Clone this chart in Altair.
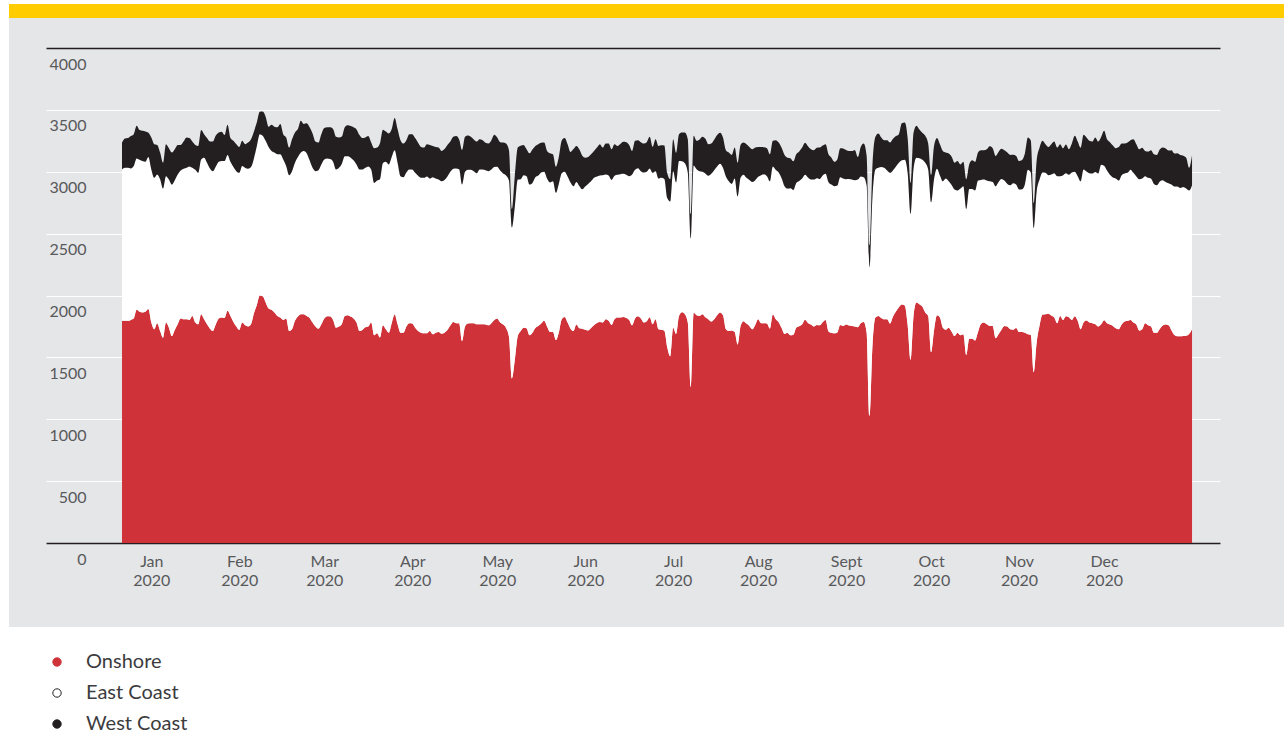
import altair as alt
import pandas as pd

# ---- series (daily, 1 Jan 2020 – 31 Dec 2020) ----
SERIES = ["Onshore", "East Coast", "West Coast"]
FILLS = ["#CF3339", "#FFFFFF", "#231F20"]
OUTLINES = ["#CF3339", "#231F20", "#231F20"]

onshore = [
    1795, 1795, 1795, 1803, 1814, 1884, 1868, 1863, 1868, 1890,
    1781, 1727, 1776, 1713, 1659, 1781, 1740, 1672, 1721, 1767,
    1814, 1808, 1808, 1803, 1835, 1781, 1767, 1849, 1808, 1767,
    1732, 1713, 1767, 1814, 1822, 1819, 1876, 1835, 1786, 1749,
    1721, 1781, 1759, 1749, 1767, 1857, 1923, 1999, 1993, 1944,
    1895, 1884, 1863, 1835, 1822, 1803, 1814, 1713, 1727, 1795,
    1830, 1849, 1849, 1835, 1819, 1781, 1749, 1732, 1767, 1814,
    1833, 1830, 1803, 1740, 1749, 1770, 1835, 1841, 1830, 1814,
    1781, 1713, 1721, 1743, 1749, 1781, 1678, 1694, 1660, 1760,
    1727, 1699, 1776, 1846, 1767, 1699, 1699, 1749, 1776, 1773,
    1740, 1713, 1699, 1694, 1694, 1713, 1686, 1699, 1705, 1691,
    1699, 1721, 1757, 1786, 1776, 1776, 1632, 1749, 1773, 1776,
    1776, 1767, 1767, 1767, 1765, 1759, 1776, 1803, 1814, 1781,
    1765, 1738, 1667, 1330, 1480, 1672, 1713, 1740, 1735, 1678,
    1699, 1738, 1754, 1773, 1795, 1749, 1705, 1705, 1640, 1699,
    1808, 1827, 1781, 1732, 1713, 1765, 1735, 1732, 1724, 1718,
    1738, 1759, 1778, 1786, 1781, 1808, 1795, 1762, 1808, 1822,
    1822, 1827, 1819, 1803, 1759, 1814, 1833, 1814, 1781, 1792,
    1824, 1767, 1808, 1727, 1724, 1716, 1580, 1510, 1740, 1690,
    1835, 1865, 1849, 1781, 1260, 1860, 1841, 1835, 1849, 1824,
    1808, 1789, 1808, 1841, 1863, 1841, 1727, 1713, 1718, 1705,
    1604, 1754, 1792, 1773, 1754, 1727, 1762, 1808, 1776, 1776,
    1773, 1732, 1846, 1808, 1784, 1738, 1691, 1697, 1678, 1683,
    1740, 1751, 1767, 1805, 1778, 1765, 1749, 1762, 1759, 1784,
    1803, 1710, 1699, 1694, 1702, 1762, 1754, 1765, 1757, 1754,
    1749, 1743, 1776, 1786, 1700, 1030, 1600, 1822, 1835, 1819,
    1808, 1808, 1773, 1830, 1871, 1906, 1928, 1920, 1760, 1480,
    1835, 1944, 1930, 1911, 1863, 1835, 1543, 1720, 1841, 1822,
    1740, 1724, 1740, 1708, 1672, 1699, 1678, 1686, 1520, 1650,
    1651, 1637, 1705, 1770, 1781, 1767, 1754, 1754, 1654, 1686,
    1724, 1754, 1749, 1727, 1724, 1738, 1705, 1705, 1700, 1686,
    1681, 1380, 1620, 1757, 1846, 1849, 1852, 1838, 1822, 1776,
    1835, 1803, 1833, 1824, 1803, 1833, 1795, 1727, 1781, 1797,
    1781, 1776, 1767, 1749, 1767, 1800, 1776, 1765, 1754, 1735,
    1727, 1765, 1789, 1795, 1803, 1781, 1765, 1716, 1727, 1776,
    1759, 1749, 1699, 1699, 1730, 1757, 1765, 1759, 1718, 1681,
    1670, 1670, 1672, 1675, 1689, 1727,
]

east_coast = [
    1224, 1237, 1237, 1224, 1232, 1224, 1229, 1224, 1213, 1229,
    1238, 1224, 1202, 1227, 1205, 1183, 1197, 1224, 1211, 1211,
    1196, 1216, 1224, 1240, 1197, 1235, 1224, 1251, 1306, 1306,
    1295, 1292, 1276, 1267, 1265, 1268, 1260, 1246, 1252, 1256,
    1270, 1265, 1273, 1275, 1271, 1251, 1286, 1305, 1298, 1306,
    1306, 1284, 1292, 1306, 1319, 1297, 1232, 1259, 1278, 1278,
    1289, 1306, 1319, 1314, 1273, 1251, 1256, 1281, 1292, 1286,
    1275, 1273, 1278, 1279, 1283, 1295, 1290, 1284, 1284, 1278,
    1278, 1306, 1298, 1289, 1294, 1238, 1232, 1235, 1280, 1310,
    1354, 1360, 1343, 1327, 1306, 1265, 1257, 1245, 1243, 1246,
    1251, 1254, 1252, 1257, 1268, 1232, 1270, 1246, 1232, 1232,
    1235, 1241, 1242, 1238, 1251, 1245, 1264, 1250, 1243, 1240,
    1229, 1221, 1252, 1252, 1248, 1246, 1243, 1235, 1226, 1229,
    1221, 1232, 1262, 1220, 1240, 1265, 1227, 1232, 1229, 1218,
    1211, 1218, 1216, 1221, 1205, 1196, 1208, 1218, 1190, 1203,
    1180, 1173, 1181, 1181, 1170, 1153, 1150, 1126, 1156, 1184,
    1185, 1192, 1184, 1184, 1191, 1170, 1175, 1172, 1159, 1153,
    1158, 1156, 1156, 1161, 1219, 1202, 1196, 1191, 1213, 1208,
    1203, 1224, 1197, 1218, 1227, 1226, 1208, 1250, 1265, 1224,
    1252, 1219, 1219, 1210, 1200, 1190, 1180, 1170, 1151, 1162,
    1159, 1194, 1205, 1202, 1202, 1191, 1235, 1210, 1184, 1240,
    1197, 1197, 1183, 1178, 1180, 1191, 1170, 1151, 1196, 1204,
    1191, 1191, 1197, 1208, 1210, 1210, 1192, 1167, 1189, 1170,
    1170, 1175, 1178, 1170, 1175, 1172, 1188, 1186, 1183, 1186,
    1180, 1205, 1197, 1189, 1186, 1194, 1191, 1175, 1185, 1183,
    1183, 1194, 1186, 1170, 1190, 1198, 1200, 1197, 1197, 1219,
    1224, 1202, 1218, 1183, 1172, 1167, 1164, 1177, 1230, 1180,
    1190, 1170, 1179, 1186, 1210, 1184, 1210, 1220, 1183, 1148,
    1183, 1221, 1183, 1185, 1184, 1149, 1186, 1197, 1180, 1210,
    1210, 1211, 1224, 1164, 1156, 1162, 1169, 1164, 1229, 1232,
    1218, 1175, 1153, 1164, 1183, 1158, 1151, 1153, 1200, 1330,
    1313, 1165, 1220, 1180, 1148, 1142, 1120, 1140, 1166, 1188,
    1129, 1169, 1155, 1151, 1191, 1167, 1169, 1196, 1238, 1205,
    1207, 1210, 1230, 1237, 1290, 1249, 1234, 1210, 1199, 1210,
    1202, 1207, 1197, 1196, 1213, 1210, 1197, 1224, 1218, 1188,
    1192, 1196, 1203, 1192, 1191, 1175, 1153, 1148, 1178, 1199,
    1210, 1199, 1205, 1189, 1159, 1164,
]

west_coast = [
    217, 237, 240, 261, 258, 264, 240, 244, 245, 196,
    258, 272, 239, 215, 209, 259, 253, 259, 250, 239,
    207, 220, 245, 229, 212, 201, 218, 237, 190, 199,
    217, 239, 250, 237, 236, 209, 244, 191, 212, 218,
    210, 204, 191, 212, 225, 218, 190, 180, 195, 195,
    163, 212, 209, 218, 245, 204, 231, 223, 258, 245,
    226, 258, 218, 242, 267, 278, 239, 223, 245, 253,
    251, 256, 264, 263, 245, 220, 234, 250, 255, 267,
    283, 277, 253, 245, 245, 217, 280, 266, 290, 270,
    245, 251, 226, 262, 272, 291, 272, 261, 285, 285,
    281, 267, 250, 244, 261, 272, 253, 256, 258, 245,
    250, 255, 245, 258, 261, 240, 280, 283, 277, 266,
    256, 256, 244, 236, 221, 223, 236, 261, 237, 229,
    250, 258, 245, 150, 250, 258, 270, 245, 218, 253,
    270, 253, 253, 240, 236, 223, 236, 218, 210, 217,
    265, 272, 261, 247, 300, 291, 296, 272, 234, 217,
    218, 217, 233, 253, 223, 250, 258, 248, 256, 234,
    245, 259, 264, 253, 190, 234, 226, 234, 234, 239,
    255, 210, 258, 264, 263, 270, 200, 180, 258, 239,
    217, 234, 250, 272, 200, 240, 229, 256, 282, 280,
    256, 245, 245, 253, 250, 245, 212, 232, 234, 250,
    272, 266, 261, 272, 267, 264, 263, 242, 229, 218,
    226, 218, 207, 239, 242, 245, 253, 250, 242, 231,
    231, 237, 250, 259, 253, 245, 237, 245, 253, 242,
    240, 226, 218, 198, 212, 234, 242, 236, 226, 231,
    242, 182, 239, 272, 240, 180, 260, 263, 278, 239,
    223, 245, 245, 253, 245, 231, 300, 300, 280, 250,
    290, 258, 233, 218, 218, 209, 220, 270, 248, 253,
    245, 210, 224, 229, 217, 239, 195, 198, 240, 200,
    231, 231, 226, 240, 237, 253, 283, 272, 245, 242,
    243, 245, 253, 245, 231, 232, 231, 237, 250, 260,
    258, 200, 250, 258, 256, 232, 229, 245, 256, 231,
    259, 218, 232, 207, 234, 290, 280, 270, 280, 275,
    262, 258, 280, 258, 223, 282, 253, 264, 259, 245,
    270, 256, 242, 245, 239, 272, 261, 242, 248, 204,
    212, 229, 239, 245, 258, 263, 270, 265, 278, 267,
    269, 267, 253, 250, 184, 242,
]

# ---- axis text ----
MONTHS = ["Jan", "Feb", "Mar", "Apr", "May", "Jun",
          "Jul", "Aug", "Sept", "Oct", "Nov", "Dec"]
YEAR_LABEL = "2020"
MONTH_LABEL_DATES = ["2020-01-11", "2020-02-10", "2020-03-10", "2020-04-09",
                     "2020-05-08", "2020-06-07", "2020-07-07", "2020-08-05",
                     "2020-09-04", "2020-10-03", "2020-11-02", "2020-12-01"]
Y_TICKS = [0, 500, 1000, 1500, 2000, 2500, 3000, 3500, 4000]

FONT = "Lato"
PANEL_GREY = "#E5E6E8"
YELLOW = "#FFCC00"
INK = "#231F20"

# ---- long-form table ----
dates = pd.date_range("2020-01-01", "2020-12-31", freq="D").strftime("%Y-%m-%d")
frames = []
for rank, (name, values) in enumerate(zip(SERIES, [onshore, east_coast, west_coast])):
    frames.append(pd.DataFrame({"date": dates, "value": values,
                                "series": name, "rank": rank}))
df = pd.concat(frames, ignore_index=True)


def utc_date(text, hours=0, minutes=0):
    y, m, d = (int(p) for p in text.split("-"))
    return alt.DateTime(year=y, month=m, date=d, hours=hours,
                        minutes=minutes, utc=True)


x_domain = [utc_date("2019-12-06", 1, 48), utc_date("2021-01-09", 12, 58)]
month_array = "[" + ",".join("'%s'" % m for m in MONTHS) + "]"
x_label_expr = "[%s[utcmonth(datum.value)], '%s']" % (month_array, YEAR_LABEL)

legend = alt.Legend(
    title=None, orient="none", legendX=1, legendY=604, direction="vertical",
    symbolType="circle", symbolSize=70, symbolStrokeWidth=1,
    labelFont=FONT, labelFontSize=20, labelColor="#3C3C3E",
    labelOffset=19, rowPadding=11, padding=0,
)

areas = alt.Chart(df).mark_area(
    interpolate="monotone", strokeWidth=0, opacity=1
).encode(
    x=alt.X(
        "date:T",
        scale=alt.Scale(type="utc", domain=x_domain),
        axis=alt.Axis(
            title=None, values=[utc_date(d) for d in MONTH_LABEL_DATES],
            labelExpr=x_label_expr, grid=False, ticks=False, tickSize=0,
            domain=True, domainColor=INK, domainWidth=1.5,
            labelFont=FONT, labelFontSize=16, labelColor="#58595B",
            labelBaseline="top", labelPadding=10, labelLineHeight=19,
            labelFlush=False, labelOverlap=False,
        ),
    ),
    y=alt.Y(
        "value:Q", stack="zero",
        scale=alt.Scale(domain=[0, 4000], nice=False),
        axis=alt.Axis(
            title=None, values=Y_TICKS, format="d", domain=False,
            ticks=False, tickSize=0, grid=True,
            gridColor={"condition": {"test": "datum.value === 4000", "value": INK},
                       "value": "#FFFFFF"},
            gridWidth={"condition": {"test": "datum.value === 4000", "value": 1.5},
                       "value": 1},
            labelFont=FONT, labelFontSize=16, labelColor="#58595B",
            labelAlign="right", labelBaseline="middle",
            labelPadding=-40, labelOffset=16, labelFlush=False,
        ),
    ),
    fill=alt.Fill("series:N", scale=alt.Scale(domain=SERIES, range=FILLS),
                  legend=legend),
    stroke=alt.Stroke("series:N", scale=alt.Scale(domain=SERIES, range=OUTLINES),
                      legend=legend),
    order=alt.Order("rank:Q", sort="ascending"),
)

# page furniture: white margins around the grey panel and the yellow rule on top
one_row = pd.DataFrame({"k": [0]})


def band(x0, x1, y0, y1, colour):
    return alt.Chart(one_row).mark_rect(color=colour, strokeWidth=0).encode(
        x=alt.value(x0), x2=alt.value(x1), y=alt.value(y0), y2=alt.value(y1)
    )


furniture = [
    band(-46, 1238, 579, 686, "#FFFFFF"),
    band(-46, -37, -48, 686, "#FFFFFF"),
    band(-46, 1238, -48, -44, "#FFFFFF"),
    band(-37, 1238, -44, -30, YELLOW),
]

chart = alt.layer(areas, *furniture).properties(
    width=1174, height=495,
    autosize=alt.AutoSizeParams(type="none"),
    padding={"left": 46, "top": 48, "right": 64, "bottom": 191},
    background=PANEL_GREY,
).configure_view(stroke=None, fill=None)

chart.save("out.html", embed_options={"renderer": "svg", "actions": False})
